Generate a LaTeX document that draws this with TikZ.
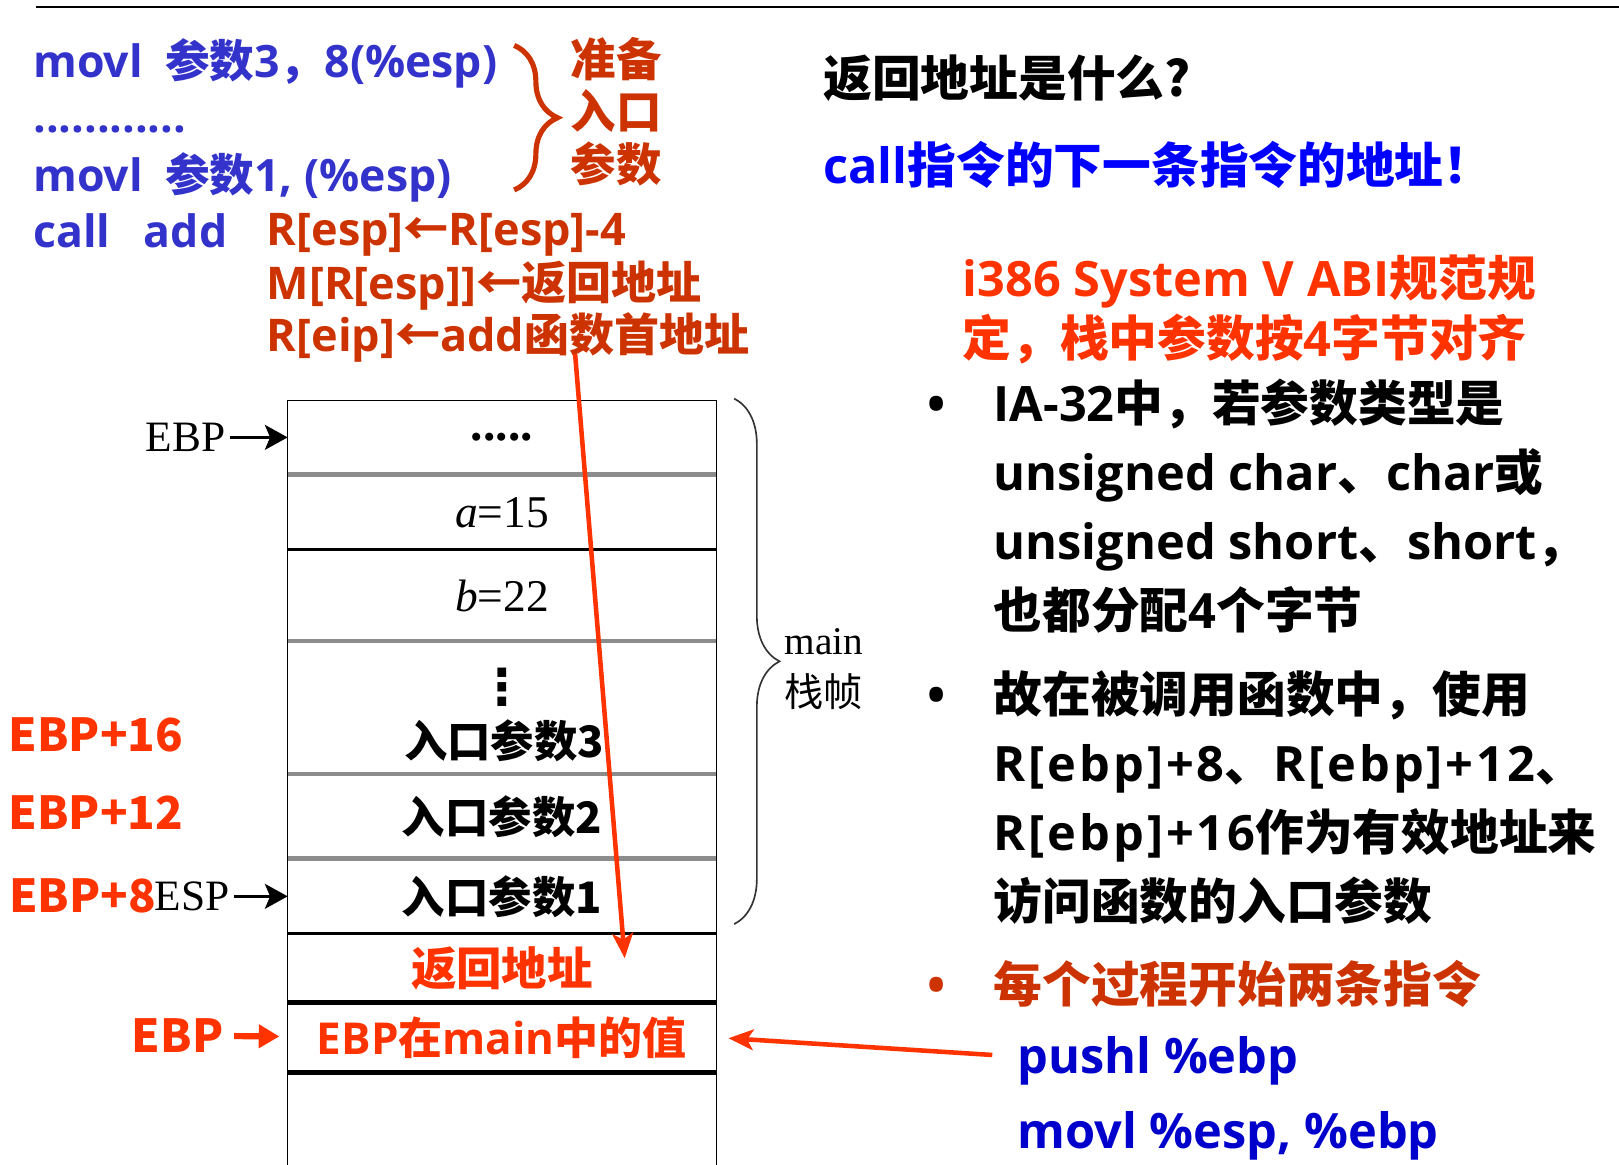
\documentclass[tikz,border=0pt]{standalone}
\usepackage{fontspec}
\usepackage[dvipsnames]{xcolor}
\usetikzlibrary{matrix,positioning,arrows.meta,decorations.pathreplacing}

\setmainfont{Open Sans}
\newfontfamily\cjk{Noto Sans CJK SC}
\newfontfamily\serifx{Liberation Serif}
\newfontfamily\dejavu{DejaVu Sans}
\newcommand{\zh}[1]{{\cjk #1}}
\newcommand{\wide}[1]{{\addfontfeature{LetterSpace=6}#1}}

\definecolor{codeblue}{HTML}{3333CC}
\definecolor{callblue}{HTML}{0000FF}
\definecolor{insblue}{HTML}{0000CC}
\definecolor{rustred}{HTML}{CC3300}
\definecolor{hotred}{HTML}{FF3300}

\begin{document}
\begin{tikzpicture}[x=0.5pt, y=-0.5pt,
    code-txt/.style={inner sep=0pt, anchor=base west, text=codeblue, font=\bfseries\fontsize{21.6}{26}\selectfont},
    op-txt/.style={inner sep=0pt, anchor=base west, text=rustred, font=\bfseries\fontsize{21.8}{26}\selectfont},
    big-txt/.style={inner sep=0pt, anchor=base west, font=\bfseries\fontsize{23.6}{28}\selectfont},
    item-txt/.style={inner sep=0pt, anchor=base west, font=\bfseries\fontsize{23.6}{28}\selectfont},
    item-dot/.style={inner sep=0pt, anchor=base, font=\bfseries\fontsize{23.5}{28}\selectfont},
    red-lbl/.style={inner sep=0pt, text=hotred, font=\cjk\bfseries\fontsize{22}{26}\selectfont},
    ser-lbl/.style={inner sep=2pt, font=\serifx\fontsize{21}{24}\selectfont},
    stk-arr/.style={matrix of nodes, nodes in empty cells, row sep=0pt, inner sep=0pt, outer sep=0pt,
        nodes={draw, line width=0.6pt, minimum width=207.5pt, inner sep=0pt, outer sep=0pt, anchor=center}},
    sep-gray/.style={line width=2pt, black!45},
    sep-thick/.style={line width=2.4pt},
    blk-arr/.style={line width=1.6pt, -{Stealth[length=11pt, width=12pt, inset=2.5pt]}},
    hot-arr/.style={line width=2.2pt, hotred, -{Stealth[length=12pt, width=10pt, inset=3pt]}},
    ebp-arr/.style={line width=3pt, hotred, -{Triangle[length=10pt, width=11pt]}},
  ]

\useasboundingbox (0,0) rectangle (1568,1128);
\draw[line width=0.8pt] (35,7) -- (1568,7);

% Caller code
\node[code-txt] (mov3) at (32,75) {movl\hspace{0.5em}\zh{参数}3\zh{，}8(\%esp)};
\node[code-txt] (dots) at (32,128) {............};
\node[code-txt] (mov1) at (32,185) {movl\hspace{0.5em}\zh{参数}1, (\%esp)};
\node[code-txt] (call) at (32,240) {call\hspace{0.75em}add};

% Brace: prepare the arguments
\draw[rustred, line width=2.5pt, decorate, decoration={brace, amplitude=21pt}] (498,44) -- (498,184);
\node[inner sep=0pt, text=rustred, align=center, font=\cjk\bfseries\fontsize{22}{25.5}\selectfont] (prep) at (597,108) {准备\\入口\\参数};

% What call does
\node[op-txt] (op1) at (258,238) {R[esp]\zh{←}R[esp]-4};
\node[op-txt] (op2) at (258,290) {M[R[esp]]\zh{←返回地址}};
\node[op-txt] (op3) at (258,340) {R[eip]\zh{←}add\zh{函数首地址}};

% Right column
\node[big-txt] (q) at (797,93) {\zh{返回地址是什么?}};
\node[big-txt, text=callblue] (ans) at (797,178) {call\zh{指令的下一条指令的地址！}};
\node[item-txt, text=hotred] (abi1) at (932,287) {i386 System V ABI\zh{规范规}};
\node[item-txt, text=hotred] (abi2) at (932,345) {\zh{定，栈中参数按}4\zh{字节对齐}};

\node[item-dot] (d1) at (907,408) {•};
\node[item-txt] (t11) at (962,408) {IA-32\zh{中，若参数类型是}};
\node[item-txt] (t12) at (962,475) {unsigned char\zh{、}char\zh{或}};
\node[item-txt] (t13) at (962,542) {unsigned short\zh{、}short\zh{，}};
\node[item-txt] (t14) at (962,609) {\zh{也都分配}4\zh{个字节}};
\node[item-dot] (d2) at (907,690) {•};
\node[item-txt] (t21) at (962,690) {\zh{故在被调用函数中，使用}};
\node[item-txt] (t22) at (962,757) {\wide{R[ebp]+8}\zh{、}\wide{R[ebp]+12}\zh{、}};
\node[item-txt] (t23) at (962,824) {\wide{R[ebp]+16}\zh{作为有效地址来}};
\node[item-txt] (t24) at (962,891) {\zh{访问函数的入口参数}};
\node[item-dot, text=rustred] (d3) at (907,971) {•};
\node[item-txt, text=rustred] (t31) at (962,971) {\zh{每个过程开始两条指令}};
\node[item-txt, text=insblue] (pushl) at (985,1040) {pushl \%ebp};
\node[item-txt, text=insblue] (movl) at (985,1112) {movl \%esp, \%ebp};

% Stack
\matrix (stk) [stk-arr, anchor=north west] at (278,387) {
|[minimum height=36pt, font=\serifx\bfseries\fontsize{24}{24}\selectfont]| ..... \\
|[minimum height=35.5pt, font=\serifx\fontsize{22}{24}\selectfont]| \textit{a}=15 \\
|[minimum height=44pt, font=\serifx\fontsize{22}{24}\selectfont]| \textit{b}=22 \\
|[minimum height=63.5pt]| \\
|[minimum height=40.5pt, font=\cjk\bfseries\fontsize{21}{24}\selectfont]| 入口参数2 \\
|[minimum height=35.5pt, font=\cjk\bfseries\fontsize{21}{24}\selectfont]| 入口参数1 \\
|[minimum height=33pt, text=hotred, font=\cjk\bfseries\fontsize{22}{24}\selectfont]| 返回地址 \\
|[minimum height=33.5pt, text=hotred, font=\bfseries\fontsize{21.3}{24}\selectfont]| EBP\zh{在}main\zh{中的值} \\
|[minimum height=60pt]| \\
};
\node[inner sep=0pt, font=\dejavu\bfseries\fontsize{24}{24}\selectfont] (vdots) at ([yshift=10pt]stk-4-1.center) {⋮};
\node[inner sep=0pt, font=\cjk\bfseries\fontsize{21}{24}\selectfont] (arg3) at ([xshift=1pt, yshift=-16pt]stk-4-1.center) {入口参数3};
\foreach \r in {1,3,4,5}
  \draw[sep-gray] (stk-\r-1.south west) -- (stk-\r-1.south east);
\foreach \r in {7,8}
  \draw[sep-thick] (stk-\r-1.south west) -- (stk-\r-1.south east);

% Brace: main frame
\draw[line width=0.8pt, black!80, decorate, decoration={brace, amplitude=22pt}] (711,386) -- (711,895);
\node[inner sep=0pt, align=center, font=\serifx\fontsize{19}{25.5}\selectfont] (frame) at (798,648) {main\\\zh{栈帧}};

% Labels left of the stack
\node[ser-lbl, left=28pt of stk-1-1] (ebp-top) {EBP};
\draw[blk-arr] (ebp-top) -- (stk-1-1);
\node[ser-lbl, left=26pt of stk-6-1] (esp) {ESP};
\draw[blk-arr] (esp) -- (stk-6-1);
\node[red-lbl, left=-3pt of esp] (ebp-8) {EBP+8};
\node[red-lbl, anchor=west] (ebp-12) at (8,787) {EBP+12};
\node[red-lbl, anchor=west] (ebp-16) at (8,712) {EBP+16};
\node[red-lbl] (ebp-cur) at (172,1003) {EBP};
\draw[ebp-arr, shorten <=5pt, shorten >=4pt] (ebp-cur) -- (stk-8-1);

% Return address and frame setup
\coordinate (ret-from) at (557,343);
\coordinate (ret-to) at (605,928);
\draw[hot-arr] (ret-from) -- (ret-to);
\draw[hot-arr] ([xshift=-12pt, yshift=3pt]pushl.west) -- ([xshift=6pt]stk-8-1.east);

\end{tikzpicture}
\end{document}
